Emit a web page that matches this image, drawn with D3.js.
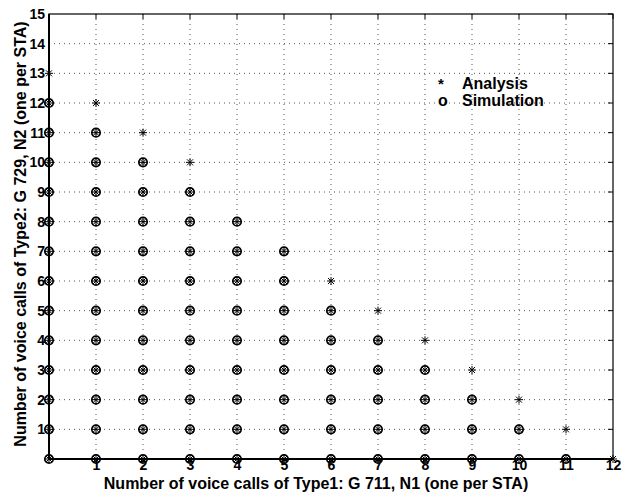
<!DOCTYPE html>
<html>
<head>
<meta charset="utf-8">
<script src="https://cdn.jsdelivr.net/npm/d3@7"></script>
<style>
  body { margin: 0; background: #fff; }
  text { font-family: "Liberation Sans", Arial, sans-serif; font-weight: bold; }
</style>
</head>
<body>
<div id="chart"></div>
<script>
// max number of Type2 calls supported for each N1 value
var n1Values = [0, 1, 2, 3, 4, 5, 6, 7, 8, 9, 10, 11, 12];
var analysisMax = [13, 12, 11, 10, 8, 7, 6, 5, 4, 3, 2, 1, 0];
var simulationMax = [12, 11, 10, 9, 8, 7, 5, 4, 3, 2, 1, 0, -1];
var xTicks = [1, 2, 3, 4, 5, 6, 7, 8, 9, 10, 11, 12];
var yTicks = [1, 2, 3, 4, 5, 6, 7, 8, 9, 10, 11, 12, 13, 14, 15];

var margin = { top: 14, right: 16, bottom: 33, left: 49 };
var W = 629, H = 492;
var width = W - margin.left - margin.right,
    height = H - margin.top - margin.bottom;

var svg = d3.select("#chart").append("svg")
    .attr("width", W)
    .attr("height", H);

var g = svg.append("g")
    .attr("transform", "translate(" + margin.left + "," + margin.top + ")");

var x = d3.scaleLinear().domain([0, 12]).range([0, width]);
var y = d3.scaleLinear().domain([0, 15]).range([height, 0]);

// build point lists
var analysisPts = [], simPts = [];
n1Values.forEach(function (n1, i) {
    for (var k = 0; k <= analysisMax[i]; k++) analysisPts.push({ x: n1, y: k });
    for (var k = 0; k <= simulationMax[i]; k++) simPts.push({ x: n1, y: k });
});

// grid
g.append("g").selectAll("line")
    .data(xTicks.slice(0, -1))
    .enter().append("line")
    .attr("x1", d => x(d)).attr("x2", d => x(d))
    .attr("y1", 0).attr("y2", height)
    .attr("stroke", "#555").attr("stroke-width", 1)
    .attr("stroke-dasharray", "1,4");

g.append("g").selectAll("line")
    .data(yTicks.slice(0, -1))
    .enter().append("line")
    .attr("y1", d => y(d)).attr("y2", d => y(d))
    .attr("x1", 0).attr("x2", width)
    .attr("stroke", "#555").attr("stroke-width", 1)
    .attr("stroke-dasharray", "1,4");

// axes
var xAxis = d3.axisBottom(x).tickValues(xTicks).tickSize(0).tickPadding(1);
var gX = g.append("g")
    .attr("transform", "translate(0," + height + ")")
    .call(xAxis);
gX.select(".domain").remove();
gX.selectAll("text").style("font-size", "14px").attr("fill", "#000");

var yAxis = d3.axisLeft(y).tickValues(yTicks).tickSize(0).tickPadding(4);
var gY = g.append("g").call(yAxis);
gY.select(".domain").remove();
gY.selectAll("text").style("font-size", "14px").attr("fill", "#000");

// ticks on the right and top (inside)
g.append("g").selectAll("line")
    .data(yTicks).enter().append("line")
    .attr("x1", width).attr("x2", width - 5)
    .attr("y1", d => y(d)).attr("y2", d => y(d))
    .attr("stroke", "#000");
g.append("g").selectAll("line")
    .data(xTicks).enter().append("line")
    .attr("y1", 0).attr("y2", 5)
    .attr("x1", d => x(d)).attr("x2", d => x(d))
    .attr("stroke", "#000");

// frame
g.append("rect")
    .attr("width", width).attr("height", height)
    .attr("fill", "none").attr("stroke", "#000").attr("stroke-width", 1.2);
g.append("line")
    .attr("x1", 0).attr("x2", width).attr("y1", height).attr("y2", height)
    .attr("stroke", "#000").attr("stroke-width", 2);
g.append("line")
    .attr("x1", 0).attr("x2", 0).attr("y1", 0).attr("y2", height)
    .attr("stroke", "#000").attr("stroke-width", 2);

// simulation circles
g.append("g").selectAll("circle")
    .data(simPts).enter().append("circle")
    .attr("cx", d => x(d.x)).attr("cy", d => y(d.y))
    .attr("r", 4.2)
    .attr("fill", "none").attr("stroke", "#000").attr("stroke-width", 1.7);

// analysis stars
var starPath = "M-4,0H4M0,-4V4M-3,-3L3,3M-3,3L3,-3";
g.append("g").selectAll("path")
    .data(analysisPts).enter().append("path")
    .attr("transform", d => "translate(" + x(d.x) + "," + y(d.y) + ")")
    .attr("d", starPath)
    .attr("fill", "none").attr("stroke", "#000").attr("stroke-width", 1);

// legend
var leg = svg.append("g");
leg.append("text").attr("x", 438).attr("y", 89).style("font-size", "15px").text("*");
leg.append("text").attr("x", 462).attr("y", 89).style("font-size", "16px").text("Analysis");
leg.append("text").attr("x", 438).attr("y", 106).style("font-size", "16px").text("o");
leg.append("text").attr("x", 462).attr("y", 106).style("font-size", "16px").text("Simulation");

// axis titles
svg.append("text")
    .attr("x", 316).attr("y", 489)
    .attr("text-anchor", "middle")
    .style("font-size", "16px")
    .text("Number of voice calls of Type1: G 711, N1 (one per STA)");

svg.append("text")
    .attr("transform", "translate(26,234) rotate(-90)")
    .attr("text-anchor", "middle")
    .style("font-size", "16px")
    .text("Number of voice calls of Type2: G 729, N2 (one per STA)");
</script>
</body>
</html>
